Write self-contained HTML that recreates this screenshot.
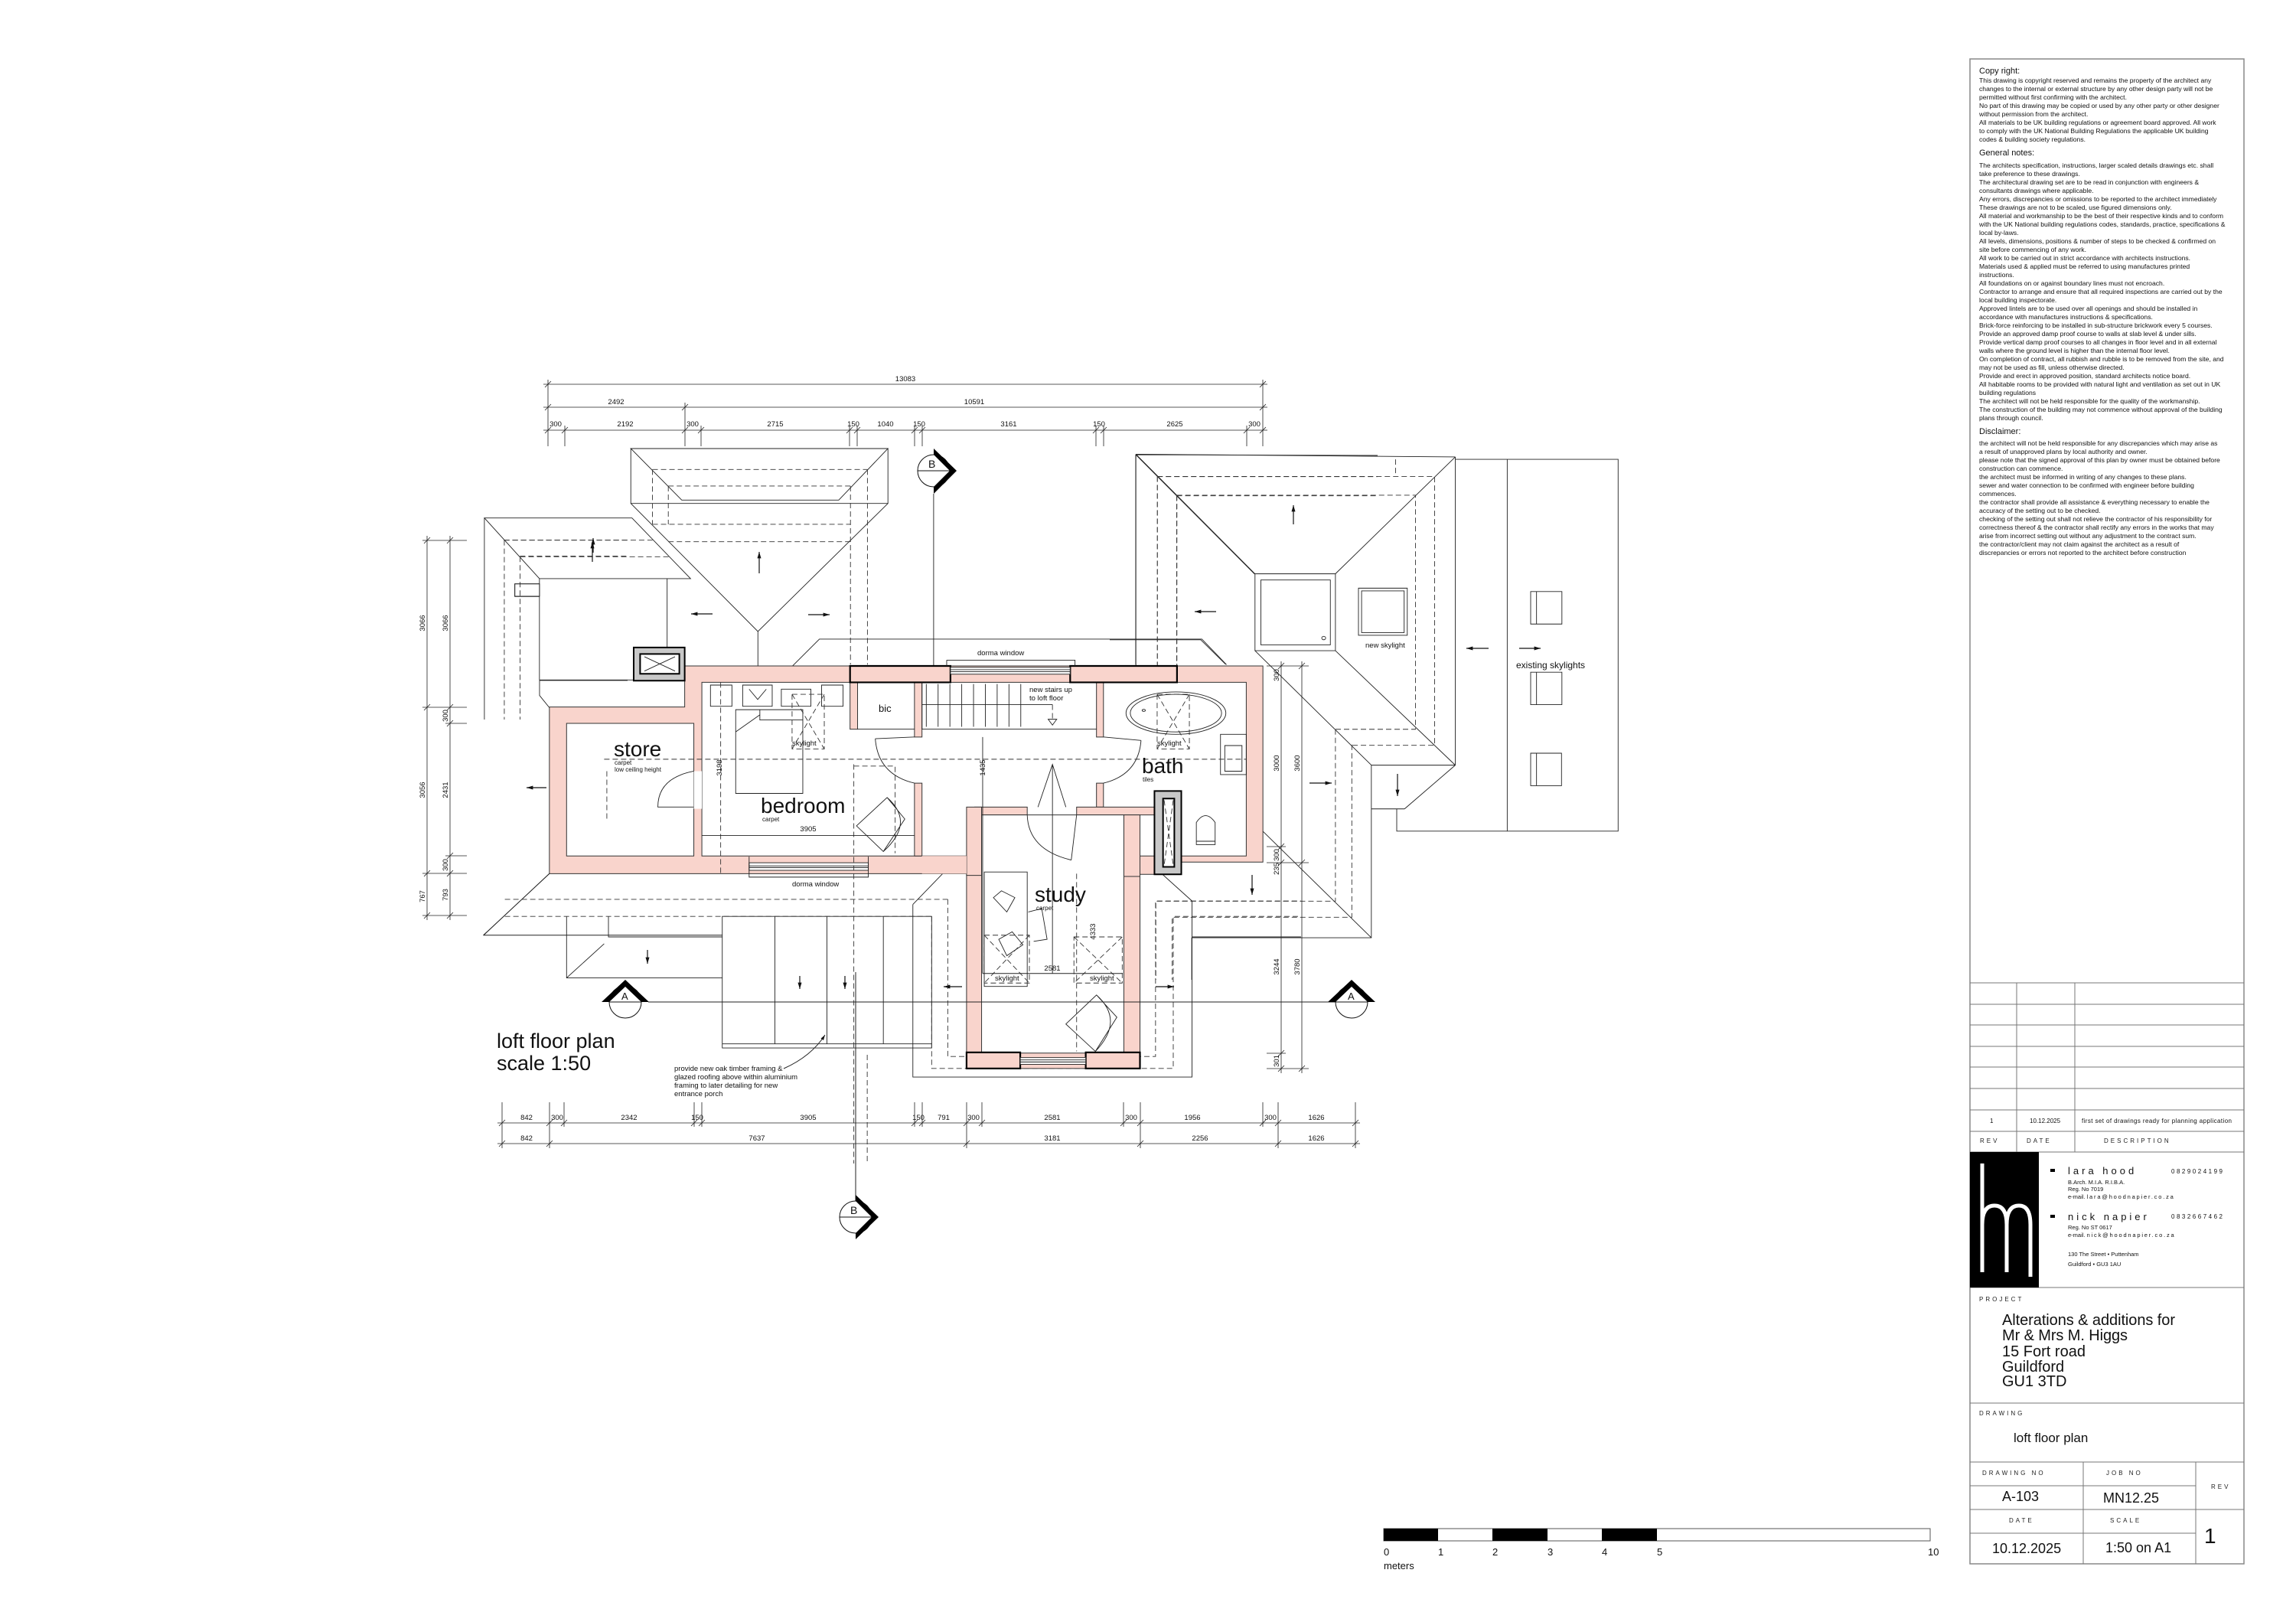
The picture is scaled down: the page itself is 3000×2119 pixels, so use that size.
<!DOCTYPE html>
<html><head><meta charset="utf-8"><style>
html,body{margin:0;padding:0;background:#fff}
svg{display:block}
text{font-family:"Liberation Sans",Arial,sans-serif;fill:#111}
.n{font-family:"Liberation Sans Narrow","Liberation Sans",sans-serif;font-size:9.5px}
.t *{vector-effect:non-scaling-stroke}
.ln{fill:none;stroke:#222;stroke-width:0.9}
.ds{fill:none;stroke:#333;stroke-width:0.9;stroke-dasharray:7 4}
.nt{font-size:8.6px;fill:#333}
.lb{font-size:8px;letter-spacing:3px;fill:#222}
</style></head><body>
<svg width="3000" height="2119" viewBox="0 0 3000 2119" xmlns="http://www.w3.org/2000/svg">
<defs><marker id="ah" viewBox="0 0 10 10" refX="10" refY="5" markerWidth="7" markerHeight="7" orient="auto"><path d="M0,2 L10,5 L0,8z" fill="#111"/></marker></defs>
<rect width="3000" height="2119" fill="#fff"/>

<!-- ============ ROOFS (zoom3 frame) ============ -->
<g class="t" transform="translate(600,480) scale(0.7653,0.3333)">
<path class="ln" d="M293,318 H732 L648,520 H380 Z M293,318 V533 H732 V318 M293,533 L510,1035 L732,533 M510,1035 V1380"/>
<path class="ds" d="M330,400 H697 M357,465 H668 M330,400 V615 M357,465 V615 M697,400 V1165 M668,465 V1165 M330,615 H668 M357,683 H668"/>
<path class="ln" d="M43,590 H295 L395,828 H137 Z M43,590 V1380 M137,828 V1225 H385 M355,828 V1100 M95,848 H137 V898 H95 Z"/>
<path class="ds" d="M77,677 H330 M104,742 H358 M77,677 V1380 M104,742 V1380"/>
<path class="ln" d="M1155,342 L1568,345 M1155,342 L1358,810 M1155,342 V1165"/>
<path class="ds" d="M1192,428 H1568 M1225,503 H1568 M1192,428 V1165 M1225,503 V1165"/>
<path class="ln" d="M543,1230 L615,1065 H1268 L1310,1165 M810,495 V1170"/>
</g>

<!-- ============ right roof (zoom4 frame) ============ -->
<g class="t" transform="translate(1450,580) scale(0.5102,0.4464)">
<path class="ln" d="M67,30 L885,38 M67,30 V650 M885,38 V940 M67,30 L372,380 M885,38 L578,380 M372,380 H578 V605 H372 Z M387,398 H565 V588 H387 Z M372,605 L670,940 M340,1075 L670,1445 M578,605 L885,940 M670,940 H885 M670,940 V1445 H210 V1568 M755,1068 L885,940 M670,1068 H755 M735,1068 V1133 H1302 V45 H885 M1018,45 V1133 M0,573 H233 L297,645"/>
<circle cx="548" cy="568" r="5" class="ln"/>
<path class="ds" d="M122,95 H832 V882 H620 M122,95 V650 M172,150 H783 V835 H578 M172,150 V650 M732,45 V95 M578,835 V1338 H118 V1568 M620,880 V1385 H160 V1568"/>
<path class="ln" d="M637,422 H762 V560 H637 Z M645,430 H754 V552 H645 Z"/>
<path class="ln" d="M1078,432 H1158 V527 H1078 Z M1093,432 V527 M1078,668 H1158 V763 H1078 Z M1093,668 V763 M1078,905 H1157 V1000 H1078 Z M1093,905 V1000"/>
</g>

<!-- ============ left roof lower (zoom6 frame) ============ -->
<g class="t" transform="translate(520,680) scale(0.3333,0.3571)">
<path class="ln" d="M555,585 V640 L593,684 M555,585 H900 M335,1518 L593,1292"/>
<path class="ds" d="M415,72 H900 M478,130 H900"/>
<path class="ln" d="M458,232 H555 V277 H458 Z"/>
</g>

<!-- ============ PLAN (zoom2 frame) ============ -->
<g class="t" transform="translate(600,820) scale(0.7015,0.4464)">
<!-- bottom roofs & porch -->
<path class="ln" d="M45,900 H490 M45,900 L168,720 M200,845 V1025 H490 M278,845 V905 H490 M200,1025 L270,925 M490,845 H880 V1230 H490 Z M588,845 V1218 M685,845 V1218 M790,845 V1218 M490,1218 H880"/>
<path class="ds" d="M85,795 H910 M85,845 H880"/>
<path class="ds" d="M880,845 V1290 H1330 V845 H1568 M910,795 V1255 H1297 V800 H1568"/>
<path class="ln" d="M845,810 V1315 H1365 V800 L1310,722 M845,810 L962,620 M1365,905 H1568"/>
<!-- pink walls -->
<path d="M168,232 L420,232 L420,112 L1497,112 L1497,686 L1345,686 L1345,722 L1268,722 L1268,1290 L945,1290 L945,720 L168,720 Z" fill="#f9d4cc" stroke="#333" stroke-width="1"/>
<rect x="200" y="280" width="237" height="388" fill="#fff" stroke="#333"/>
<rect x="452" y="160" width="1014" height="508" fill="#fff" stroke="#333"/>
<rect x="437" y="420" width="15" height="110" fill="#fff"/>
<g fill="#f9d4cc" stroke="#333">
<rect x="848" y="160" width="14" height="160"/><rect x="848" y="455" width="14" height="213"/>
<rect x="728" y="160" width="14" height="137"/>
<rect x="1187" y="160" width="13" height="160"/><rect x="1187" y="455" width="13" height="70"/>
<rect x="960" y="525" width="98" height="23"/><rect x="1150" y="525" width="145" height="23"/>
<rect x="945" y="525" width="28" height="200"/><rect x="1238" y="548" width="30" height="180"/>
<rect x="862" y="668" width="83" height="52" stroke="none"/>
</g>
<rect x="973" y="548" width="265" height="697" fill="#fff" stroke="#333"/>
<!-- windows -->
<rect x="728" y="112" width="187" height="48" fill="#f9d4cc" stroke="#000" stroke-width="2.2"/>
<rect x="1138" y="112" width="199" height="48" fill="#f9d4cc" stroke="#000" stroke-width="2.2"/>
<rect x="915" y="116" width="223" height="20" fill="#fff" stroke="#333"/>
<path class="ln" d="M915,123 H1138 M915,129 H1138 M908,95 H1147 V112 M908,95 V112"/>
<rect x="540" y="688" width="222" height="22" fill="#fff" stroke="#333"/>
<path class="ln" d="M540,697 H762 M540,702 H762 M540,670 V730 H762 V670"/>
<rect x="945" y="1243" width="100" height="47" fill="#f9d4cc" stroke="#000" stroke-width="2.2"/>
<rect x="1167" y="1243" width="101" height="47" fill="#f9d4cc" stroke="#000" stroke-width="2.2"/>
<rect x="1045" y="1258" width="122" height="20" fill="#fff" stroke="#333"/>
<path class="ln" d="M1045,1265 H1167 M1045,1271 H1167"/>
<!-- chimneys -->
<rect x="325" y="58" width="95" height="97" fill="#c8c8c8" stroke="#000" stroke-width="2"/>
<rect x="337" y="77" width="73" height="58" fill="#fff" stroke="#000" stroke-width="2"/>
<path class="ln" d="M345,85 L402,127 M402,85 L345,127"/>
<rect x="1295" y="478" width="50" height="244" fill="#c8c8c8" stroke="#000" stroke-width="2"/>
<rect x="1311" y="500" width="21" height="200" fill="#fff" stroke="#000" stroke-width="2"/>
<path class="ds" d="M1313,505 L1330,695 M1330,505 L1313,695"/>
<!-- interior -->
<path class="ln" d="M468,168 H508 V230 H468 Z M528,168 H583 V230 H528 Z M600,180 H655 V230 H600 Z M675,168 H715 V230 H675 Z M515,240 H640 V485 H515 Z M515,305 L560,255 M560,240 V270 H640 M540,180 L556,210 L572,180"/>
<path class="ds" d="M620,195 H680 V355 H620 Z M620,195 L680,355 M680,195 L620,355 M1300,195 H1360 V355 H1300 Z M1300,195 L1360,355 M1360,195 L1300,355 M1105,225 V270"/>
<path class="ln" d="M742,297 H848 M862,160 V297 H1187 M870,165 V290 M892,165 V290 M914,165 V290 M936,165 V290 M958,165 V290 M980,165 V290 M1002,165 V290 M1024,165 V290 M1046,165 V290 M862,225 H1105 M1097,268 L1105,285 L1113,268 Z"/>
<ellipse cx="1335" cy="250" rx="93" ry="62" class="ln"/><ellipse cx="1335" cy="250" rx="85" ry="55" class="ln"/>
<circle cx="1275" cy="242" r="3" class="ln"/>
<path class="ln" d="M1418,312 H1466 V430 H1418 Z M1426,345 H1458 V420 H1426 Z M1373,635 V570 Q1390,530 1408,570 V635 Z M1373,625 H1408"/>
<!-- doors -->
<path class="ln" d="M848,320 L775,325 M775,325 Q780,430 848,455 M1200,320 L1270,330 M1270,330 Q1265,430 1200,455 M437,420 Q370,440 370,525 H437 M1150,548 L1140,680 M1058,548 Q1060,650 1140,680"/>
<path class="ln" d="M740,580 L797,497 L830,560 L790,655 Z M797,497 Q850,570 790,655 M1130,1160 L1187,1075 L1225,1140 L1185,1240 Z M1187,1075 Q1240,1150 1185,1240"/>
<path class="ln" d="M978,715 H1058 V1050 H978 Z M995,790 L1010,770 L1035,790 L1020,832 Z M1060,832 L1085,822 L1095,912 L1070,918 M1005,912 L1030,890 L1050,928 L1020,960 Z"/>
<path class="ds" d="M978,900 H1062 V1040 H978 Z M978,900 L1062,1040 M1062,900 L978,1040 M1145,905 H1235 V1040 H1145 Z M1145,905 L1235,1040 M1235,905 L1145,1040"/>
<path class="ds" d="M270,385 H1466 M735,400 V1568 M735,405 H812 V660 M487,160 V720 M275,420 V560 M1150,720 V1240 M760,1250 V1568"/>
<path class="ln" d="M1105,400 V1012 M975,320 V1012 M975,1012 H1236 M452,608 H848 M1078,525 L1105,400 L1130,525"/>
</g>

<!-- ============ section marks ============ -->
<g>
<circle cx="1220" cy="615" r="21" fill="#fff" stroke="#111"/><path d="M1199,615 H1241" stroke="#111"/>
<path d="M1220,586 L1250,615 L1220,645 L1220,636 L1241,615 L1220,594 Z" fill="#000"/>
<text x="1213" y="611" font-size="14">B</text>
<line x1="1118" y1="1270" x2="1118" y2="1569" stroke="#222"/>
<circle cx="1118" cy="1590" r="21" fill="#fff" stroke="#111"/><path d="M1097,1590 H1139" stroke="#111"/>
<path d="M1118,1561 L1148,1590 L1118,1619 L1118,1611 L1139,1590 L1118,1569 Z" fill="#000"/>
<text x="1111" y="1586" font-size="14">B</text>
<line x1="847" y1="1309" x2="1745" y2="1309" stroke="#222"/>
<circle cx="817" cy="1309" r="21" fill="#fff" stroke="#111"/><path d="M796,1309 H838" stroke="#111"/>
<path d="M786,1309 L817,1280 L848,1309 L838,1309 L817,1289 L796,1309 Z" fill="#000"/>
<text x="812" y="1306" font-size="13">A</text>
<circle cx="1766" cy="1309" r="21" fill="#fff" stroke="#111"/><path d="M1745,1309 H1787" stroke="#111"/>
<path d="M1735,1309 L1766,1280 L1797,1309 L1787,1309 L1766,1289 L1745,1309 Z" fill="#000"/>
<text x="1761" y="1306" font-size="13">A</text>
</g>

<!-- ============ arrows ============ -->
<g stroke="#111" stroke-width="1.2" marker-end="url(#ah)">
<line x1="774" y1="734" x2="774" y2="708"/><line x1="992" y1="749" x2="992" y2="721"/>
<line x1="931" y1="802" x2="903" y2="802"/><line x1="1056" y1="803" x2="1084" y2="803"/>
<line x1="1690" y1="685" x2="1690" y2="660"/><line x1="1589" y1="799" x2="1561" y2="799"/>
<line x1="1945" y1="847" x2="1916" y2="847"/><line x1="1985" y1="847" x2="2013" y2="847"/>
<line x1="1711" y1="1023" x2="1740" y2="1023"/><line x1="1826" y1="1011" x2="1826" y2="1040"/>
<line x1="1636" y1="1143" x2="1636" y2="1169"/><line x1="775" y1="722" x2="775" y2="703"/>
<line x1="714" y1="1029" x2="688" y2="1029"/><line x1="846" y1="1241" x2="846" y2="1259"/>
<line x1="1045" y1="1275" x2="1045" y2="1292"/><line x1="1104" y1="1275" x2="1104" y2="1292"/>
<line x1="1257" y1="1289" x2="1233" y2="1289"/><line x1="1510" y1="1289" x2="1534" y2="1289"/>
</g>
<path d="M1024,1396 Q1060,1380 1078,1352" fill="none" stroke="#222" marker-end="url(#ah)"/>

<!-- ============ dimensions ============ -->
<g stroke="#222" stroke-width="0.8" fill="none">
<path d="M710,502 H1656 M710,532 H1656 M710,562 H1656 M716,496 V583 M1650,496 V583 M895,526 V583 M738,556 V583 M916,556 V583 M1110,556 V583 M1120,556 V583 M1195,556 V583 M1205,556 V583 M1432,556 V583 M1442,556 V583 M1629,556 V583"/>
<path d="M712,506 l8,-8 M1646,506 l8,-8 M712,536 l8,-8 M891,536 l8,-8 M1646,536 l8,-8 M712,566 l8,-8 M734,566 l8,-8 M891,566 l8,-8 M912,566 l8,-8 M1106,566 l8,-8 M1116,566 l8,-8 M1191,566 l8,-8 M1201,566 l8,-8 M1428,566 l8,-8 M1438,566 l8,-8 M1625,566 l8,-8 M1646,566 l8,-8"/>
<path d="M650,1467 H1777 M650,1494 H1777 M656,1440 V1500 M718,1440 V1500 M737,1440 V1472 M907,1440 V1472 M917,1440 V1472 M1195,1440 V1472 M1205,1440 V1472 M1263,1440 V1500 M1283,1440 V1472 M1468,1440 V1472 M1490,1440 V1500 M1650,1440 V1472 M1670,1440 V1500 M1771,1440 V1500"/>
<path d="M652,1471 l8,-8 M714,1471 l8,-8 M733,1471 l8,-8 M903,1471 l8,-8 M913,1471 l8,-8 M1191,1471 l8,-8 M1201,1471 l8,-8 M1259,1471 l8,-8 M1279,1471 l8,-8 M1464,1471 l8,-8 M1486,1471 l8,-8 M1646,1471 l8,-8 M1666,1471 l8,-8 M1767,1471 l8,-8 M652,1498 l8,-8 M714,1498 l8,-8 M1259,1498 l8,-8 M1486,1498 l8,-8 M1666,1498 l8,-8 M1767,1498 l8,-8"/>
<path d="M558,700 V1202 M588,700 V1202 M552,706 H610 M552,924 H610 M582,945 H610 M582,1118 H610 M552,1141 H610 M552,1196 H610"/>
<path d="M554,710 l8,-8 M554,928 l8,-8 M554,1145 l8,-8 M554,1200 l8,-8 M584,710 l8,-8 M584,928 l8,-8 M584,949 l8,-8 M584,1122 l8,-8 M584,1145 l8,-8 M584,1200 l8,-8"/>
<path d="M1674,864 V1402 M1701,864 V1402 M1655,870 H1710 M1655,1106 H1680 M1655,1127 H1710 M1655,1376 H1680 M1655,1396 H1710"/>
<path d="M1670,874 l8,-8 M1670,1110 l8,-8 M1670,1131 l8,-8 M1670,1380 l8,-8 M1670,1400 l8,-8 M1697,874 l8,-8 M1697,1131 l8,-8 M1697,1400 l8,-8"/>
</g>
<g class="n" text-anchor="middle">
<text x="1183" y="498">13083</text>
<text x="805" y="528">2492</text><text x="1273" y="528">10591</text>
<text x="726" y="557">300</text><text x="817" y="557">2192</text><text x="905" y="557">300</text><text x="1013" y="557">2715</text><text x="1115" y="557">150</text><text x="1157" y="557">1040</text><text x="1201" y="557">150</text><text x="1318" y="557">3161</text><text x="1436" y="557">150</text><text x="1535" y="557">2625</text><text x="1639" y="557">300</text>
<text x="688" y="1463">842</text><text x="728" y="1463">300</text><text x="822" y="1463">2342</text><text x="911" y="1463">150</text><text x="1056" y="1463">3905</text><text x="1200" y="1463">150</text><text x="1233" y="1463">791</text><text x="1272" y="1463">300</text><text x="1375" y="1463">2581</text><text x="1478" y="1463">300</text><text x="1558" y="1463">1956</text><text x="1660" y="1463">300</text><text x="1720" y="1463">1626</text>
<text x="688" y="1490">842</text><text x="989" y="1490">7637</text><text x="1375" y="1490">3181</text><text x="1568" y="1490">2256</text><text x="1720" y="1490">1626</text>
<text transform="translate(555,814) rotate(-90)">3066</text><text transform="translate(555,1032) rotate(-90)">3056</text><text transform="translate(555,1171) rotate(-90)">767</text>
<text transform="translate(585,814) rotate(-90)">3066</text><text transform="translate(585,935) rotate(-90)">300</text><text transform="translate(585,1032) rotate(-90)">2431</text><text transform="translate(585,1130) rotate(-90)">300</text><text transform="translate(585,1169) rotate(-90)">793</text>
<text transform="translate(1671,882) rotate(-90)">300</text><text transform="translate(1671,997) rotate(-90)">3000</text><text transform="translate(1698,997) rotate(-90)">3600</text><text transform="translate(1671,1117) rotate(-90)">300</text><text transform="translate(1671,1135) rotate(-90)">235</text><text transform="translate(1671,1263) rotate(-90)">3244</text><text transform="translate(1698,1263) rotate(-90)">3780</text><text transform="translate(1671,1386) rotate(-90)">301</text>
<text transform="translate(943,1003) rotate(-90)">3198</text><text transform="translate(1287,1003) rotate(-90)">1435</text><text transform="translate(1431,1217) rotate(-90)">4333</text>
<text x="1056" y="1086">3905</text><text x="1375" y="1268">2581</text>
</g>

<!-- ============ plan labels ============ -->
<g>
<text x="802" y="988" font-size="28">store</text>
<text x="803" y="999" font-size="8">carpet</text><text x="803" y="1008" font-size="8">low ceiling height</text>
<text x="994" y="1062" font-size="28">bedroom</text><text x="996" y="1073" font-size="8">carpet</text>
<text x="1492" y="1010" font-size="28">bath</text><text x="1493" y="1021" font-size="8">tiles</text>
<text x="1352" y="1178" font-size="28">study</text><text x="1354" y="1189" font-size="8">carpet</text>
<g class="n" font-size="9.5px">
<text x="1148" y="930" font-size="13">bic</text>
<text x="1277" y="856">dorma window</text><text x="1035" y="1158">dorma window</text>
<text x="1345" y="904">new stairs up</text><text x="1345" y="915">to loft floor</text>
<text x="1035" y="974">skylight</text><text x="1512" y="974">skylight</text>
<text x="1300" y="1281">skylight</text><text x="1424" y="1281">skylight</text>
<text x="1784" y="846">new skylight</text>
<text x="881" y="1399">provide new oak timber framing &amp;</text>
<text x="881" y="1410">glazed roofing above within aluminium</text>
<text x="881" y="1421">framing to later detailing for new</text>
<text x="881" y="1432">entrance porch</text>
</g>
<text x="1981" y="873" font-size="12">existing skylights</text>
<text x="649" y="1369" font-size="27">loft floor plan</text>
<text x="649" y="1398" font-size="27">scale 1:50</text>
</g>

<!-- ============ scale bar ============ -->
<rect x="1808" y="1997" width="714" height="16" fill="#fff" stroke="#555"/>
<rect x="1808" y="1997" width="71" height="16" fill="#000"/><rect x="1950" y="1997" width="72" height="16" fill="#000"/><rect x="2093" y="1997" width="72" height="16" fill="#000"/>
<g font-size="13"><text x="1808" y="2032">0</text><text x="1879" y="2032">1</text><text x="1950" y="2032">2</text><text x="2022" y="2032">3</text><text x="2093" y="2032">4</text><text x="2165" y="2032">5</text><text x="2519" y="2032">10</text><text x="1808" y="2050">meters</text></g>

<!-- ============ title block ============ -->
<rect x="2574" y="77" width="358" height="1966" fill="none" stroke="#888" stroke-width="1.5"/>
<g font-size="11"><text x="2586" y="96">Copy right:</text><text x="2586" y="203">General notes:</text><text x="2586" y="567">Disclaimer:</text></g>
<g class="nt">
<text x="2586" y="108">This drawing is copyright reserved and remains the property of the architect any</text>
<text x="2586" y="119">changes to the internal or external structure by any other design party will not be</text>
<text x="2586" y="130">permitted without first confirming with the architect.</text>
<text x="2586" y="141">No part of this drawing may be copied or used by any other party or other designer</text>
<text x="2586" y="152">without permission from the architect.</text>
<text x="2586" y="163">All materials to be UK building regulations or agreement board approved. All work</text>
<text x="2586" y="174">to comply with the UK National Building Regulations the applicable UK building</text>
<text x="2586" y="185">codes &amp; building society regulations.</text>
<text x="2586" y="219">The architects specification, instructions, larger scaled details drawings etc. shall</text>
<text x="2586" y="230">take preference to these drawings.</text>
<text x="2586" y="241">The architectural drawing set are to be read in conjunction with engineers &amp;</text>
<text x="2586" y="252">consultants drawings where applicable.</text>
<text x="2586" y="263">Any errors, discrepancies or omissions to be reported to the architect immediately</text>
<text x="2586" y="274">These drawings are not to be scaled, use figured dimensions only.</text>
<text x="2586" y="285">All material and workmanship to be the best of their respective kinds and to conform</text>
<text x="2586" y="296">with the UK National building regulations codes, standards, practice, specifications &amp;</text>
<text x="2586" y="307">local by-laws.</text>
<text x="2586" y="318">All levels, dimensions, positions &amp; number of steps to be checked &amp; confirmed on</text>
<text x="2586" y="329">site before commencing of any work.</text>
<text x="2586" y="340">All work to be carried out in strict accordance with architects instructions.</text>
<text x="2586" y="351">Materials used &amp; applied must be referred to using manufactures printed</text>
<text x="2586" y="362">instructions.</text>
<text x="2586" y="373">All foundations on or against boundary lines must not encroach.</text>
<text x="2586" y="384">Contractor to arrange and ensure that all required inspections are carried out by the</text>
<text x="2586" y="395">local building inspectorate.</text>
<text x="2586" y="406">Approved lintels are to be used over all openings and should be installed in</text>
<text x="2586" y="417">accordance with manufactures instructions &amp; specifications.</text>
<text x="2586" y="428">Brick-force reinforcing to be installed in sub-structure brickwork every 5 courses.</text>
<text x="2586" y="439">Provide an approved damp proof course to walls at slab level &amp; under sills.</text>
<text x="2586" y="450">Provide vertical damp proof courses to all changes in floor level and in all external</text>
<text x="2586" y="461">walls where the ground level is higher than the internal floor level.</text>
<text x="2586" y="472">On completion of contract, all rubbish and rubble is to be removed from the site, and</text>
<text x="2586" y="483">may not be used as fill, unless otherwise directed.</text>
<text x="2586" y="494">Provide and erect in approved position, standard architects notice board.</text>
<text x="2586" y="505">All habitable rooms to be provided with natural light and ventilation as set out in UK</text>
<text x="2586" y="516">building regulations</text>
<text x="2586" y="527">The architect will not be held responsible for the quality of the workmanship.</text>
<text x="2586" y="538">The construction of the building may not commence without approval of the building</text>
<text x="2586" y="549">plans through council.</text>
<text x="2586" y="582">the architect will not be held responsible for any discrepancies which may arise as</text>
<text x="2586" y="593">a result of unapproved plans by local authority and owner.</text>
<text x="2586" y="604">please note that the signed approval of this plan by owner must be obtained before</text>
<text x="2586" y="615">construction can commence.</text>
<text x="2586" y="626">the architect must be informed in writing of any changes to these plans.</text>
<text x="2586" y="637">sewer and water connection to be confirmed with engineer before building</text>
<text x="2586" y="648">commences.</text>
<text x="2586" y="659">the contractor shall provide all assistance &amp; everything necessary to enable the</text>
<text x="2586" y="670">accuracy of the setting out to be checked.</text>
<text x="2586" y="681">checking of the setting out shall not relieve the contractor of his responsibility for</text>
<text x="2586" y="692">correctness thereof &amp; the contractor shall rectify any errors in the works that may</text>
<text x="2586" y="703">arise from incorrect setting out without any adjustment to the contract sum.</text>
<text x="2586" y="714">the contractor/client may not  claim against the architect as a result of</text>
<text x="2586" y="725">discrepancies or errors not reported to the architect before construction</text>
</g>
<g stroke="#777" stroke-width="1" fill="none">
<path d="M2574,1284 H2932 M2574,1312 H2932 M2574,1339 H2932 M2574,1367 H2932 M2574,1394 H2932 M2574,1422 H2932 M2574,1450 H2932 M2574,1478 H2932 M2574,1505 H2932 M2635,1284 V1505 M2711,1284 V1505"/>
<path d="M2574,1682 H2932 M2574,1833 H2932 M2574,1910 H2932 M2574,1941 H2869 M2574,1972 H2932 M2574,2003 H2869 M2722,1910 V2043 M2869,1910 V2043"/>
</g>
<text x="2600" y="1467" font-size="8">1</text><text x="2652" y="1467" font-size="8">10.12.2025</text>
<text x="2720" y="1467" font-size="8" textLength="196">first set of drawings ready for planning application</text>
<text x="2587" y="1493" class="lb">REV</text><text x="2648" y="1493" class="lb">DATE</text><text x="2749" y="1493" class="lb">DESCRIPTION</text>
<rect x="2574" y="1505" width="90" height="177" fill="#000"/>
<path d="M2590,1520 V1662 M2590,1600 Q2590,1575 2606,1575 Q2622,1575 2622,1600 V1662 M2622,1600 Q2622,1575 2638,1575 Q2653,1575 2653,1600 V1668" fill="none" stroke="#fff" stroke-width="5"/>
<rect x="2679" y="1527" width="6" height="4" fill="#000"/><rect x="2679" y="1587" width="6" height="4" fill="#000"/>
<text x="2702" y="1534" font-size="13" letter-spacing="4">lara hood</text><text x="2837" y="1533" font-size="8" letter-spacing="2.5">0829024199</text>
<g font-size="7.5"><text x="2702" y="1547">B.Arch. M.I.A. R.I.B.A.</text><text x="2702" y="1556">Reg. No 7019</text><text x="2702" y="1566">e-mail. <tspan letter-spacing="1.8">lara@hoodnapier.co.za</tspan></text>
<text x="2702" y="1606">Reg. No ST 0617</text><text x="2702" y="1616">e-mail. <tspan letter-spacing="1.8">nick@hoodnapier.co.za</tspan></text>
<text x="2702" y="1641">130 The Street  •  Puttenham</text><text x="2702" y="1654">Guildford  •  GU3 1AU</text></g>
<text x="2702" y="1594" font-size="13" letter-spacing="4">nick napier</text><text x="2837" y="1592" font-size="8" letter-spacing="2.5">0832667462</text>
<text x="2586" y="1700" class="lb">PROJECT</text>
<g font-size="20"><text x="2616" y="1731" textLength="226">Alterations &amp; additions for</text><text x="2616" y="1751" textLength="164">Mr &amp; Mrs M. Higgs</text><text x="2616" y="1772">15 Fort road</text><text x="2616" y="1792">Guildford</text><text x="2616" y="1811">GU1 3TD</text></g>
<text x="2586" y="1849" class="lb">DRAWING</text>
<text x="2631" y="1884" font-size="17">loft floor plan</text>
<text x="2590" y="1927" class="lb">DRAWING NO</text><text x="2752" y="1927" class="lb">JOB NO</text><text x="2889" y="1945" class="lb">REV</text>
<text x="2616" y="1961" font-size="18">A-103</text><text x="2748" y="1963" font-size="18">MN12.25</text>
<text x="2625" y="1989" class="lb">DATE</text><text x="2757" y="1989" class="lb">SCALE</text>
<text x="2603" y="2029" font-size="18">10.12.2025</text><text x="2751" y="2028" font-size="18">1:50 on A1</text>
<text x="2880" y="2016" font-size="28">1</text>
</svg>
</body></html>
